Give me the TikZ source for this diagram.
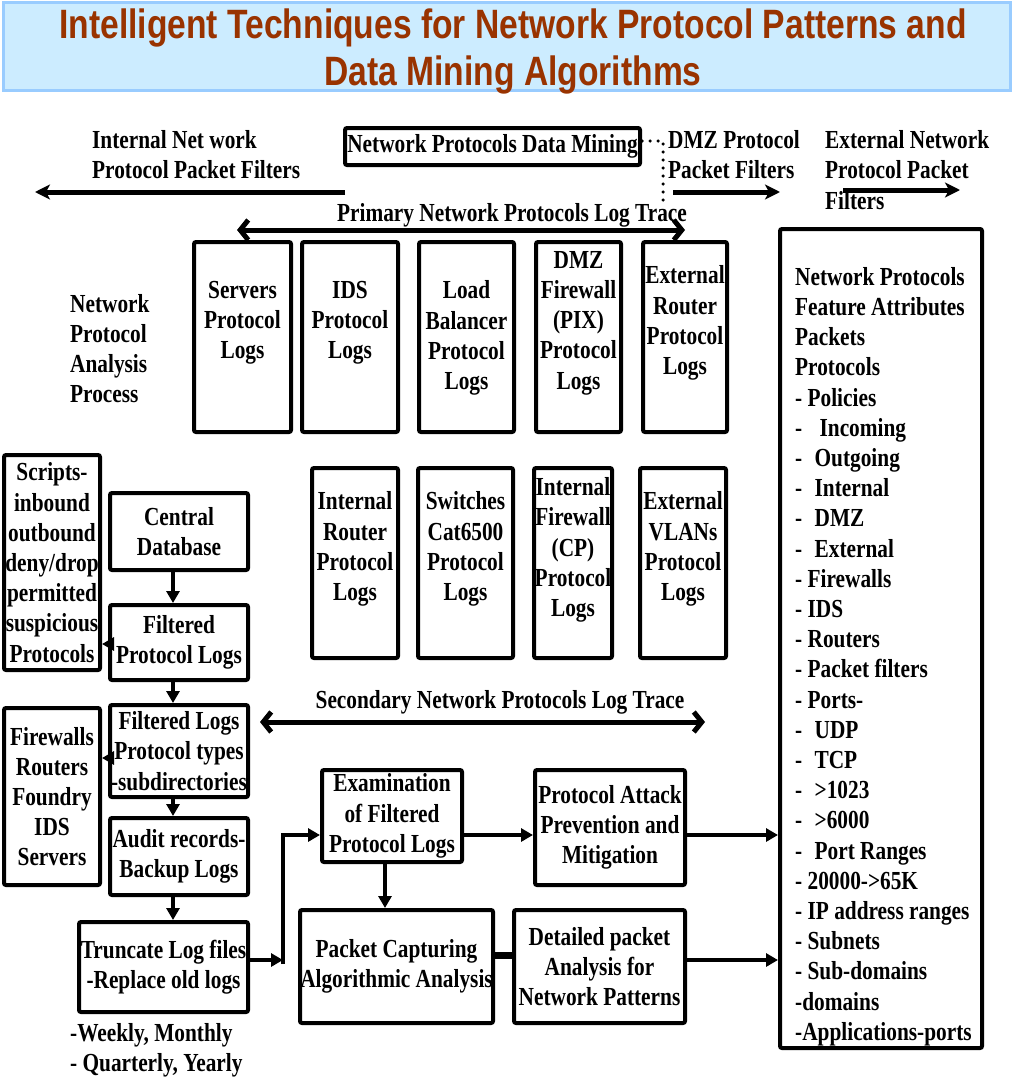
\documentclass[tikz,border=0pt]{standalone}
\usepackage{fontspec}
\usetikzlibrary{arrows.meta}
\newfontfamily\bodyfont{Liberation Serif}[FakeStretch=0.82]
\newfontfamily\titlefont{Liberation Sans}[FakeStretch=0.82]
\definecolor{titlefill}{RGB}{204,236,255}
\definecolor{titleedge}{RGB}{153,204,255}
\definecolor{titleink}{RGB}{153,51,0}
\begin{document}
\begin{tikzpicture}[x=1pt,y=-1pt,
  txt/.style={inner sep=0pt, align=center, font=\bodyfont\bfseries\fontsize{26}{30.2}\selectfont},
  ltxt/.style={txt, align=left, anchor=west},
  box/.style={txt, draw, line width=4pt, rounded corners=2pt},
  arr/.style={line width=4.5pt, -{Triangle[length=12pt,width=13pt]}},
  harr/.style={line width=5pt, -{Stealth[length=15pt,width=15pt,inset=4pt]}},
  darr/.style={line width=5pt, {Straight Barb[length=8pt,width=20pt]}-{Straight Barb[length=8pt,width=20pt]}},
  dotline/.style={line width=3.5pt, line cap=round, dash pattern=on 0pt off 8pt},
]
\useasboundingbox (0,0) rectangle (1013,1084);

% heading banner
\draw[fill=titlefill, draw=titleedge, line width=3pt] (3,2) rectangle (1010,90);
\node[inner sep=0pt, align=center, text=titleink,
      font=\titlefont\bfseries\fontsize{41}{47}\selectfont] (title) at (513,51)
  {Intelligent Techniques for Network Protocol Patterns and\\Data Mining Algorithms};

% top row: packet filter directions
\node[ltxt] (inf) at (92,155) {Internal Net work\\Protocol Packet Filters};
\node[box, minimum width=295pt, minimum height=37pt] (dm) at (492.5,146.5) {Network Protocols Data Mining};
\node[ltxt] (dmzf) at (668,155) {DMZ Protocol\\Packet Filters};
\node[ltxt] (extf) at (825,170) {External Network\\Protocol Packet\\Filters};

\coordinate (infa) at (345,192);
\coordinate (infb) at (35,192);
\coordinate (dmza) at (673,192);
\coordinate (dmzb) at (780,192);
\coordinate (exta) at (843,190);
\coordinate (extb) at (960,190);
\draw[harr] (infa) -- (infb);
\draw[harr] (dmza) -- (dmzb);
\draw[harr] (exta) -- (extb);

\coordinate (dotend) at (663,200);
\draw[dotline] ([yshift=5.5pt]dm.east) -| (dotend);

% primary trace
\node[txt] (prim) at (512,215) {Primary Network Protocols Log Trace};
\coordinate (pa) at (237,230);
\coordinate (pb) at (685,230);
\draw[darr] (pa) -- (pb);

\node[ltxt] (nap) at (70,348.5) {Network\\Protocol\\Analysis\\Process};

% first row of log sources
\node[box, minimum width=97pt, minimum height=190pt] (srv) at (242.5,337) {};
\node[box, minimum width=96pt, minimum height=190pt] (ids) at (350,337) {};
\node[box, minimum width=95pt, minimum height=190pt] (lb) at (466.5,337) {};
\node[box, minimum width=85pt, minimum height=190pt] (dmz) at (578.5,337) {};
\node[box, minimum width=84pt, minimum height=190pt] (exr) at (685,337) {};
\node[txt] (srvt) at (242.5,323) {Servers\\Protocol\\Logs};
\node[txt] (idst) at (350,323) {IDS\\Protocol\\Logs};
\node[txt] (lbt) at (466.5,338) {Load\\Balancer\\Protocol\\Logs};
\node[txt] (dmzt) at (578.5,323) {DMZ\\Firewall\\(PIX)\\Protocol\\Logs};
\node[txt] (exrt) at (685,323) {External\\Router\\Protocol\\Logs};

% second row of log sources
\node[box, minimum width=86pt, minimum height=190pt] (inr) at (355,563) {};
\node[box, minimum width=95pt, minimum height=190pt] (sw) at (465.5,563) {};
\node[box, minimum width=78pt, minimum height=190pt] (cp) at (573,563) {};
\node[box, minimum width=86pt, minimum height=190pt] (exv) at (683,563) {};
\node[txt] (inrt) at (355,549) {Internal\\Router\\Protocol\\Logs};
\node[txt] (swt) at (465.5,549) {Switches\\Cat6500\\Protocol\\Logs};
\node[txt] (cpt) at (573,550) {Internal\\Firewall\\(CP)\\Protocol\\Logs};
\node[txt] (exvt) at (683,549) {External\\VLANs\\Protocol\\Logs};

% feature attribute list
\node[box, minimum width=202pt, minimum height=819pt] (big) at (881,638.5) {};
\node[ltxt] (feat) at (795,656.5) {Network Protocols\\Feature Attributes\\Packets\\Protocols\\- Policies\\-\hspace{12pt} Incoming\\-\hspace{7pt} Outgoing\\-\hspace{7pt} Internal\\-\hspace{7pt} DMZ\\-\hspace{7pt} External\\- Firewalls\\- IDS\\- Routers\\- Packet filters\\- Ports-\\-\hspace{7pt} UDP\\-\hspace{7pt} TCP\\-\hspace{7pt} >1023\\-\hspace{7pt} >6000\\-\hspace{7pt} Port Ranges\\- 20000->65K\\- IP address ranges\\- Subnets\\- Sub-domains\\-domains\\-Applications-ports};

% processing chain on the left
\node[box, minimum width=96pt, minimum height=215pt] (scr) at (52,562.5) {Scripts-\\inbound\\outbound\\deny/drop\\permitted\\suspicious\\Protocols};
\node[box, minimum width=138pt, minimum height=77pt] (cdb) at (179,531.5) {Central\\Database};
\node[box, minimum width=138pt, minimum height=75pt] (fpl) at (179,642.5) {Filtered\\Protocol Logs};
\node[box, minimum width=138pt, minimum height=92pt] (flg) at (179,751) {Filtered Logs\\Protocol types\\-subdirectories};
\node[box, minimum width=96pt, minimum height=177pt] (fw) at (52,796.5) {Firewalls\\Routers\\Foundry\\IDS\\Servers};
\node[box, minimum width=138pt, minimum height=77pt] (aud) at (179,856.5) {Audit records-\\Backup Logs};
\node[box, minimum width=169pt, minimum height=90pt] (trc) at (163.5,967) {Truncate Log files\\-Replace old logs};
\node[ltxt] (wk) at (70,1050) {-Weekly, Monthly\\- Quarterly, Yearly};

\draw[arr] ([xshift=-6pt]cdb.south) -- ([xshift=-6pt]fpl.north);
\draw[arr] ([xshift=-6pt]fpl.south) -- ([xshift=-6pt]flg.north);
\draw[arr] ([xshift=-6pt]flg.south) -- ([xshift=-6pt]aud.north);
\draw[arr] ([xshift=-6pt]aud.south) -- ([xshift=-6pt]aud.south |- trc.north);
\draw[arr] ([yshift=-1.5pt]fpl.west) -- ([yshift=-1.5pt]fpl.west -| scr.east);
\draw[arr] ([yshift=-7pt]flg.west) -- ([yshift=-7pt]flg.west -| fw.east);

% secondary trace
\node[txt] (sec) at (500,702) {Secondary Network Protocols Log Trace};
\coordinate (sa) at (260,722);
\coordinate (sb) at (705,722);
\draw[darr] (sa) -- (sb);

% analysis stage
\node[box, minimum width=140pt, minimum height=92pt] (exam) at (392,816) {Examination\\of Filtered\\Protocol Logs};
\node[box, minimum width=150pt, minimum height=115pt] (pat) at (610,827.5) {Protocol Attack\\Prevention and\\Mitigation};
\node[box, minimum width=193pt, minimum height=113pt] (pcap) at (396.5,966.5) {Packet Capturing\\Algorithmic Analysis};
\node[box, minimum width=171pt, minimum height=113pt] (det) at (599.5,966.5) {Detailed packet\\Analysis for\\Network Patterns};

\coordinate (jn) at (283,960);
\coordinate (jnb) at (283,964);
\draw[arr] ([yshift=7pt]trc.east) -- (jn);
\draw[arr] (jnb) |- ([yshift=-19pt]exam.west);
\draw[arr] ([yshift=-19pt]exam.east) -- ([yshift=-19pt]exam.east -| pat.west);
\draw[arr] ([yshift=-7.5pt]pat.east) -- ([yshift=-7.5pt]pat.east -| big.west);
\draw[arr] ([xshift=-7pt]exam.south) -- ([xshift=-7pt]exam.south |- pcap.north);
\draw[line width=7pt] ([yshift=11.5pt]pcap.east) -- ([yshift=11.5pt]pcap.east -| det.west);
\draw[arr] ([yshift=6.5pt]det.east) -- ([yshift=6.5pt]det.east -| big.west);
\end{tikzpicture}
\end{document}
